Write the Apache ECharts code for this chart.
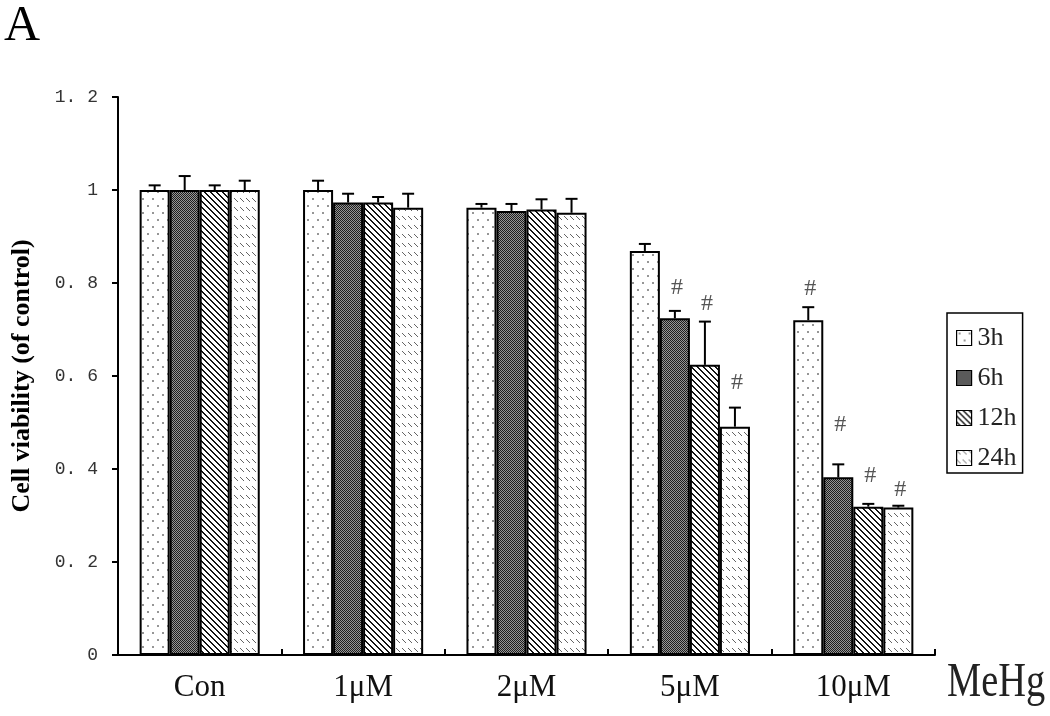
<!DOCTYPE html>
<html>
<head>
<meta charset="utf-8">
<script src="https://cdn.jsdelivr.net/npm/echarts@6/dist/echarts.min.js"></script>
<style>html,body{margin:0;padding:0;background:#fff}#c{width:1050px;height:716px}</style>
</head>
<body>
<div id="c"></div>
<script>
const categories = ['Con', '1μM', '2μM', '5μM', '10μM'];
const seriesNames = ['3h', '6h', '12h', '24h'];
const yTicks = ['0', '0. 2', '0. 4', '0. 6', '0. 8', '1', '1. 2'];
const mean3h = [1.0, 1.0, 0.962, 0.869, 0.720];
const mean6h = [1.0, 0.973, 0.955, 0.724, 0.382];
const mean12h = [1.0, 0.973, 0.958, 0.624, 0.319];
const mean24h = [1.0, 0.962, 0.951, 0.491, 0.317];
const err3h = [0.010, 0.020, 0.008, 0.015, 0.028];
const err6h = [0.030, 0.019, 0.015, 0.016, 0.028];
const err12h = [0.010, 0.012, 0.022, 0.093, 0.006];
const err24h = [0.020, 0.030, 0.030, 0.041, 0.004];
// '#' significance marks: [category index, series index, y position in data units]
const sigMarks = [[3, 1, 0.789], [3, 2, 0.755], [3, 3, 0.585], [4, 0, 0.787], [4, 1, 0.495], [4, 2, 0.385], [4, 3, 0.355]];

const means = [mean3h, mean6h, mean12h, mean24h];
const errs = [err3h, err6h, err12h, err24h];

function makeTile(w, h, fn) {
  const c = document.createElement('canvas');
  c.width = w; c.height = h;
  const ctx = c.getContext('2d');
  const img = ctx.createImageData(w, h);
  for (let y = 0; y < h; y++) for (let x = 0; x < w; x++) {
    const col = fn(x, y);
    const i = (y * w + x) * 4;
    img.data[i] = col[0]; img.data[i + 1] = col[1]; img.data[i + 2] = col[2]; img.data[i + 3] = 255;
  }
  ctx.putImageData(img, 0, 0);
  return c;
}
const W = [255, 255, 255];
const tiles = [
  makeTile(10, 14, (x, y) => (((x === 2 || x === 3) && (y === 2 || y === 3)) || ((x === 7 || x === 8) && (y === 9 || y === 10))) ? [150, 150, 150] : W),
  makeTile(2, 2, (x, y) => ((x + y) % 2 === 0) ? [30, 30, 30] : [150, 150, 150]),
  makeTile(6, 6, (x, y) => (((x - y) % 6 + 6) % 6 < 2) ? [20, 20, 20] : W),
  makeTile(6, 9, (x, y) => (y < 4 && (((x - y) % 6 + 6) % 6 === 0)) ? [100, 100, 100] : W)
];

const gapRatio = 0.265;
const barSeries = seriesNames.map((n, i) => ({
  name: n,
  type: 'bar',
  data: means[i],
  barGap: '0%',
  barCategoryGap: (gapRatio * 100) + '%',
  itemStyle: { color: { image: tiles[i], repeat: 'repeat' }, borderColor: '#000', borderWidth: 2 },
  emphasis: { disabled: true },
  z: 2
}));

const errData = [];
for (let s = 0; s < 4; s++) for (let c = 0; c < categories.length; c++) errData.push([c, s, means[s][c], errs[s][c]]);

const errSeries = {
  type: 'custom',
  data: errData,
  encode: { x: 0, y: 2 },
  z: 3,
  silent: true,
  renderItem: function (params, api) {
    const c = api.value(0), s = api.value(1), m = api.value(2), e = api.value(3);
    const band = api.size([1, 0])[0];
    const bw = band * (1 - gapRatio) / 4;
    const base = api.coord([c, m]);
    const top = api.coord([c, m + e]);
    const x = base[0] + (s - 1.5) * bw;
    const st = { stroke: '#000', lineWidth: 2 };
    return {
      type: 'group',
      children: [
        { type: 'line', shape: { x1: x, y1: base[1], x2: x, y2: top[1] }, style: st },
        { type: 'line', shape: { x1: x - 6, y1: top[1], x2: x + 6, y2: top[1] }, style: st }
      ]
    };
  }
};

const sigSeries = {
  type: 'custom',
  data: sigMarks,
  encode: { x: 0, y: 2 },
  z: 4,
  silent: true,
  renderItem: function (params, api) {
    const c = api.value(0), s = api.value(1), v = api.value(2);
    const band = api.size([1, 0])[0];
    const bw = band * (1 - gapRatio) / 4;
    const p = api.coord([c, v]);
    return {
      type: 'text',
      style: { text: '#', x: p[0] + (s - 1.5) * bw + 2, y: p[1], align: 'center', verticalAlign: 'middle',
        font: '24px "Liberation Serif"', fill: '#555' }
    };
  }
};

const chart = echarts.init(document.getElementById('c'), null, { renderer: 'canvas' });
chart.setOption({
  animation: false,
  backgroundColor: '#fff',
  grid: { left: 118, right: 115, top: 97, bottom: 61, containLabel: false, outerBoundsMode: 'none' },
  legend: {
    data: seriesNames,
    orient: 'vertical',
    left: 947,
    top: 313,
    padding: [12, 6, 2, 9],
    itemWidth: 15,
    itemHeight: 15,
    itemGap: 14,
    borderColor: '#000',
    borderWidth: 1.5,
    borderRadius: 0,
    icon: 'rect',
    itemStyle: { borderColor: '#000', borderWidth: 1.2 },
    textStyle: { fontFamily: 'Liberation Serif', fontSize: 26, color: '#222', padding: [0, 0, 0, 1] },
    selectedMode: false
  },
  xAxis: {
    type: 'category',
    data: categories,
    axisLine: { lineStyle: { color: '#000', width: 2 } },
    axisTick: { show: true, inside: true, length: 6, lineStyle: { color: '#000', width: 2 } },
    axisLabel: { fontFamily: 'Liberation Serif', fontSize: 31, color: '#111', margin: 17 }
  },
  yAxis: {
    type: 'value',
    min: 0, max: 1.2, interval: 0.2,
    name: 'Cell viability (of control)',
    nameLocation: 'middle',
    nameGap: 83,
    nameRotate: 90,
    nameTextStyle: { fontFamily: 'Liberation Serif', fontSize: 26, fontWeight: 'bold', color: '#000' },
    axisLine: { show: true, lineStyle: { color: '#000', width: 2 } },
    axisTick: { show: true, inside: false, length: 6, lineStyle: { color: '#000', width: 2 } },
    splitLine: { show: false },
    axisLabel: {
      fontFamily: 'Liberation Mono', fontSize: 18, color: '#333', margin: 20,
      formatter: function (v) { return yTicks[Math.round(v / 0.2)]; }
    }
  },
  graphic: [
    { type: 'text', left: 4, top: 2, style: { text: 'A', font: '50px "Liberation Serif"', fill: '#000' } },
    { type: 'text', x: 947, y: 659, scaleX: 0.8, style: { text: 'MeHg', font: '48px "Liberation Serif"', fill: '#222' } }
  ],
  series: barSeries.concat([errSeries, sigSeries])
});
</script>
</body>
</html>
